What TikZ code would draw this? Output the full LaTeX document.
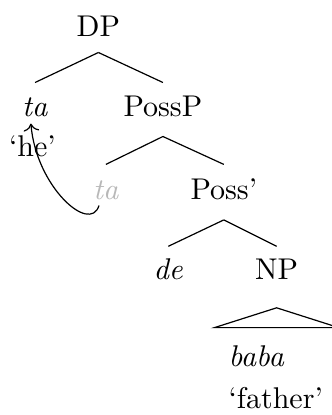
\documentclass[tikz,border=0pt]{standalone}
\usepackage{tikz}
\usetikzlibrary{calc, arrows.meta}

\begin{document}
\begin{tikzpicture}[x=1pt, y=1pt,
    word/.style={inner sep=0pt, text height=7pt, text depth=0pt, anchor=base},
    gloss/.style={inner sep=0pt, anchor=base},
    trace/.style={word, text=black!28}]
    \useasboundingbox (0,0) rectangle (110.33,-138.33);

    % nodes
    \node[word] (DP) at (32.8,-12.3) {DP};
    \node[word] (ta) at (11.7,-39) {\textit{ta}};
    \node[gloss] (he) at (10.8,-52.2) {`he'};
    \node[word] (PossP) at (54.3,-39) {PossP};
    \node[trace] (tr) at (35.3,-66.5) {\textit{ta}};
    \node[word] (Possbar) at (74.6,-66.5) {Poss'};
    \node[word] (de) at (56.1,-93.2) {\textit{de}};
    \node[word] (NP) at (92.2,-93.2) {NP};
    \node[gloss, anchor=base west] (baba) at (76,-122.3) {\textit{baba}};
    \node[gloss, anchor=base west] (father) at (76,-136) {`father'};

    % branches
    \draw ([yshift=-5pt]DP.south) -- ([yshift=4.3pt]ta.north);
    \draw ([yshift=-5pt]DP.south) -- ([yshift=4.3pt]PossP.north);
    \draw ([yshift=-6.3pt]PossP.south) -- ([yshift=4.5pt]tr.north);
    \draw ([yshift=-6.3pt]PossP.south) -- ([yshift=4.5pt]Possbar.north);
    \draw ([yshift=-6.6pt]Possbar.south) -- ([yshift=3.9pt]de.north);
    \draw ([yshift=-6.6pt]Possbar.south) -- ([yshift=3.9pt]NP.north);

    % roof
    \draw ([yshift=-9.2pt]NP.south) -- ++(-20.7,-6.6) -- ++(41.4,0) -- cycle;

    % movement
    \draw[->] ([xshift=-2.3pt,yshift=-1.8pt]tr.south)
        .. controls +(-3,-9.7) and +(1.7,-21) .. ([xshift=-1.4pt,yshift=-2pt]ta.south);
\end{tikzpicture}
\end{document}
